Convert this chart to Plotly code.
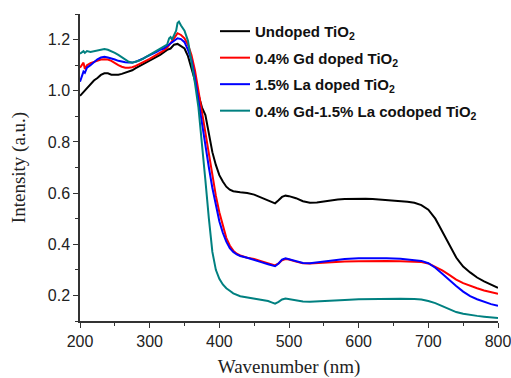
import plotly.graph_objects as go

# ---- data ----
wl_undoped = [200, 205, 210, 215, 220, 225, 230, 235, 240, 245, 250, 255, 260, 265, 270, 275, 280, 285, 290, 295,
              300, 305, 310, 315, 320, 325, 330, 335, 340, 345, 350, 355, 360, 365, 370, 375, 380, 385, 390, 395,
              400, 405, 410, 415, 420, 430, 440, 450, 460, 470, 475, 480, 485, 490, 495, 500, 510, 520, 530, 540,
              550, 560, 570, 580, 590, 600, 610, 620, 630, 640, 650, 660, 670, 680, 690, 700, 705, 710, 715, 720,
              725, 730, 735, 740, 745, 750, 760, 770, 780, 790, 800]
int_undoped = [0.98, 0.995, 1.01, 1.025, 1.04, 1.05, 1.062, 1.068, 1.068, 1.063, 1.062, 1.063, 1.066, 1.07, 1.075,
               1.08, 1.088, 1.095, 1.103, 1.11, 1.118, 1.125, 1.133, 1.14, 1.15, 1.16, 1.165, 1.18, 1.183, 1.175,
               1.165, 1.135, 1.09, 1.04, 0.985, 0.935, 0.905, 0.83, 0.76, 0.71, 0.67, 0.645, 0.625, 0.613, 0.607,
               0.603, 0.6, 0.594, 0.582, 0.57, 0.563, 0.56, 0.572, 0.585, 0.59, 0.588, 0.58, 0.568, 0.562, 0.563,
               0.567, 0.572, 0.575, 0.577, 0.578, 0.578, 0.578, 0.577, 0.575, 0.573, 0.571, 0.569, 0.566, 0.562,
               0.553, 0.535, 0.518, 0.5, 0.475, 0.45, 0.425, 0.395, 0.37, 0.348, 0.33, 0.313, 0.29, 0.27, 0.255,
               0.243, 0.23]

wl_gd = [200, 203, 205, 207, 210, 215, 220, 225, 230, 235, 240, 245, 250, 255, 260, 265, 270, 275, 280, 285, 290,
         295, 300, 305, 310, 315, 320, 325, 330, 335, 340, 345, 350, 355, 360, 365, 370, 375, 380, 385, 390, 395,
         400, 405, 410, 415, 420, 425, 430, 440, 450, 460, 470, 475, 480, 485, 490, 495, 500, 510, 520, 530, 540,
         550, 560, 570, 580, 600, 620, 640, 660, 680, 690, 700, 710, 720, 730, 740, 750, 760, 770, 780, 790, 800]
int_gd = [1.09, 1.105, 1.11, 1.085, 1.1, 1.108, 1.113, 1.118, 1.122, 1.123, 1.122, 1.117, 1.108, 1.1, 1.094, 1.09,
          1.09, 1.092, 1.097, 1.103, 1.11, 1.118, 1.125, 1.133, 1.14, 1.148, 1.157, 1.168, 1.185, 1.205, 1.225,
          1.218, 1.205, 1.18, 1.14, 1.08, 1.0, 0.92, 0.84, 0.75, 0.665, 0.59, 0.525, 0.47, 0.425, 0.395, 0.375,
          0.363, 0.356, 0.347, 0.342, 0.334, 0.325, 0.32, 0.317, 0.325, 0.337, 0.342, 0.34, 0.332, 0.326, 0.325,
          0.327, 0.329, 0.331, 0.332, 0.333, 0.334, 0.335, 0.335, 0.334, 0.333, 0.331, 0.325, 0.313, 0.298, 0.28,
          0.262, 0.248, 0.237, 0.228, 0.219, 0.212, 0.206]

wl_la = [200, 203, 205, 207, 210, 215, 220, 225, 230, 235, 240, 245, 250, 255, 260, 265, 270, 275, 280, 285, 290,
         295, 300, 305, 310, 315, 320, 325, 330, 335, 340, 345, 350, 355, 360, 365, 370, 375, 380, 385, 390, 395,
         400, 405, 410, 415, 420, 425, 430, 440, 450, 460, 470, 475, 480, 485, 490, 495, 500, 510, 520, 530, 540,
         550, 560, 570, 580, 600, 620, 640, 660, 680, 690, 700, 710, 720, 730, 740, 750, 760, 770, 780, 790, 800]
int_la = [1.035, 1.06, 1.075, 1.07, 1.09, 1.1, 1.113, 1.123, 1.13, 1.133, 1.13, 1.127, 1.122, 1.117, 1.113, 1.111,
          1.11, 1.11, 1.113, 1.118, 1.125, 1.132, 1.138, 1.145, 1.152, 1.16, 1.165, 1.175, 1.185, 1.195, 1.205,
          1.202, 1.19, 1.16, 1.12, 1.05, 0.96, 0.875, 0.79, 0.7, 0.62, 0.55, 0.49, 0.445, 0.41, 0.385, 0.37, 0.36,
          0.354, 0.347, 0.34, 0.33, 0.322, 0.317, 0.314, 0.325, 0.34, 0.345, 0.342, 0.333, 0.327, 0.326, 0.329,
          0.333, 0.337, 0.34, 0.342, 0.345, 0.346, 0.345, 0.343, 0.339, 0.335, 0.326, 0.308, 0.285, 0.26, 0.237,
          0.215, 0.197, 0.185, 0.174, 0.166, 0.16]

wl_co = [200, 205, 207, 210, 215, 220, 225, 230, 235, 240, 245, 250, 255, 260, 265, 270, 275, 280, 285, 290, 295,
         300, 305, 310, 315, 320, 325, 328, 330, 332, 335, 338, 340, 342, 345, 350, 355, 360, 365, 370, 375, 380,
         385, 390, 395, 400, 405, 410, 415, 420, 430, 440, 450, 460, 470, 475, 480, 485, 490, 495, 500, 510, 520,
         530, 540, 560, 580, 600, 620, 640, 660, 680, 690, 700, 710, 720, 730, 740, 750, 760, 770, 780, 790, 800]
int_co = [1.145, 1.155, 1.148, 1.155, 1.152, 1.155, 1.16, 1.162, 1.163, 1.16, 1.155, 1.148, 1.14, 1.13, 1.12, 1.113,
          1.11, 1.113, 1.118, 1.125, 1.133, 1.14, 1.148, 1.155, 1.163, 1.17, 1.18, 1.205, 1.21, 1.2, 1.22, 1.235,
          1.265, 1.27, 1.255, 1.235, 1.195, 1.12, 1.03, 0.935, 0.8, 0.65, 0.5, 0.37, 0.3, 0.265, 0.243, 0.228,
          0.218, 0.208, 0.197, 0.192, 0.188, 0.184, 0.178, 0.173, 0.168, 0.175, 0.184, 0.188, 0.186, 0.18, 0.176,
          0.175, 0.176, 0.179, 0.182, 0.185, 0.186, 0.187, 0.187, 0.186, 0.184, 0.178, 0.17, 0.158, 0.145, 0.135,
          0.128, 0.123, 0.12, 0.117, 0.114, 0.112]

series = [
    ("<b>Undoped TiO<sub>2</sub></b>", wl_undoped, int_undoped, "#000000"),
    ("<b>0.4% Gd doped TiO<sub>2</sub></b>", wl_gd, int_gd, "#FF0000"),
    ("<b>1.5% La doped TiO<sub>2</sub></b>", wl_la, int_la, "#0000FF"),
    ("<b>0.4% Gd-1.5% La codoped TiO<sub>2</sub></b>", wl_co, int_co, "#008080"),
]

x_ticks = [200, 300, 400, 500, 600, 700, 800]
y_ticks = [0.2, 0.4, 0.6, 0.8, 1.0, 1.2]
x_range = [200, 800]
y_range = [0.1, 1.3]

fig = go.Figure()
for i, (name, xs, ys, col) in enumerate(series):
    fig.add_trace(go.Scatter(x=xs, y=ys, mode="lines", name=name, legendgroup=f"g{i}",
                             line=dict(color=col, width=2)))

tickfont = dict(family="Arial, Liberation Sans, sans-serif", size=16, color="#222")
titlefont = dict(family="Times New Roman, Liberation Serif, serif", size=19, color="#222")
fig.update_layout(
    width=511, height=378,
    margin=dict(l=80, r=13, t=14, b=57, autoexpand=False),
    paper_bgcolor="white", plot_bgcolor="white",
    showlegend=True,
    legend=dict(x=0.323, y=0.997, xanchor="left", yanchor="top",
                font=dict(family="Arial, Liberation Sans, sans-serif", size=15, color="#111"),
                bgcolor="rgba(0,0,0,0)", tracegroupgap=4, itemwidth=30),
    xaxis=dict(range=x_range, tickvals=x_ticks, ticks="outside", ticklen=5, tickwidth=1.2,
               tickcolor="#333", showline=True, linecolor="#333", linewidth=1.5, showgrid=False,
               zeroline=False, tickfont=tickfont, automargin=False, ticklabeloverflow="allow",
               minor=dict(dtick=50, tick0=0, ticks="outside", ticklen=3, tickcolor="#333", tickwidth=1),
               title=dict(text="Wavenumber (nm)", standoff=13, font=titlefont)),
    yaxis=dict(range=y_range, tickvals=y_ticks, tickformat=".1f", ticks="outside", ticklen=5, tickwidth=1.2,
               tickcolor="#333", showline=True, linecolor="#333", linewidth=1.5, showgrid=False,
               zeroline=False, tickfont=tickfont, automargin=False, ticklabeloverflow="allow",
               minor=dict(dtick=0.1, tick0=0.1, ticks="outside", ticklen=3, tickcolor="#333", tickwidth=1),
               title=dict(text="Intensity (a.u.)", standoff=17, font=titlefont)),
    xaxis2=dict(range=x_range, overlaying="x", side="top", tickvals=x_ticks, ticks="inside", ticklen=5,
                tickcolor="#333", showticklabels=False, showline=True, linecolor="#333", linewidth=1.5,
                showgrid=False, zeroline=False, automargin=False,
                minor=dict(dtick=50, tick0=0, ticks="inside", ticklen=3, tickcolor="#333")),
    yaxis2=dict(range=y_range, overlaying="y", side="right", tickvals=y_ticks, ticks="inside", ticklen=5,
                tickcolor="#333", showticklabels=False, showline=True, linecolor="#333", linewidth=1.5,
                showgrid=False, zeroline=False, automargin=False,
                minor=dict(dtick=0.1, tick0=0.1, ticks="inside", ticklen=3, tickcolor="#333")),
)

fig.write_html("out.html", config={"displayModeBar": False},
               post_script="document.body.style.margin='0';document.body.style.overflow='hidden';")
